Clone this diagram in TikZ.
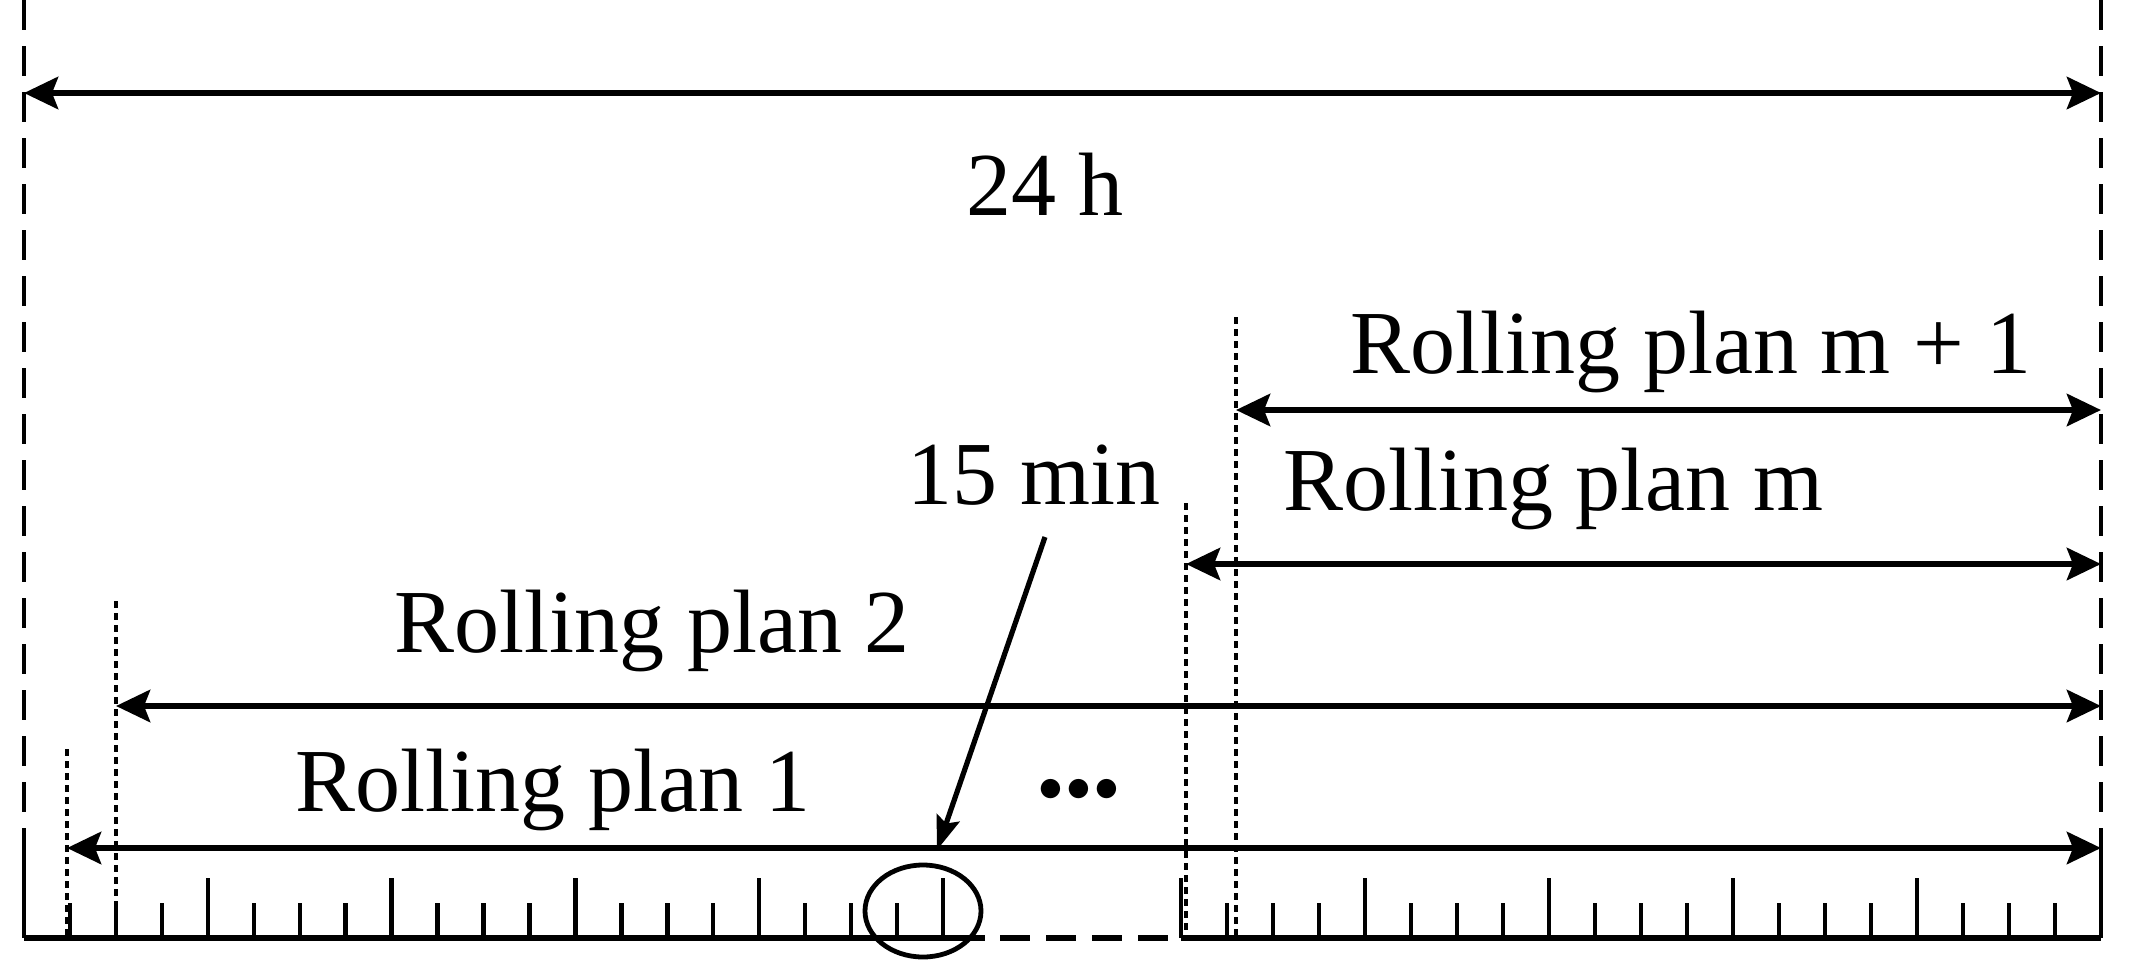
\documentclass[tikz,border=0pt]{standalone}
\usepackage{fontspec}
\setmainfont{Liberation Serif}
\usetikzlibrary{arrows.meta,shapes.geometric}
\begin{document}
\begin{tikzpicture}[x=0.5pt,y=-0.5pt,
  lbl/.style={font=\fontsize{45}{54}\selectfont,inner sep=0pt},
  dim/.style={line width=3.2pt,{Stealth[length=17pt,width=16pt,inset=3pt]}-{Stealth[length=17pt,width=16pt,inset=3pt]}},
  border/.style={line width=2.2pt,dash pattern=on 15pt off 8pt},
  dots/.style={line width=1.9pt,dash pattern=on 3.5pt off 2.5pt},
  tick/.style={line width=2.2pt}]
\useasboundingbox (0,0) rectangle (2131,964);
% borders
\draw[border] (24,0) -- (24,830);
\draw[border] (2101,0) -- (2101,830);
\draw[tick] (24,830) -- (24,938);
\draw[tick] (2101,830) -- (2101,938);
% baseline
\draw[line width=3.2pt] (24,938) -- (985,938);
\draw[line width=3.2pt,dash pattern=on 15pt off 8pt] (1000,938) -- (1170,938);
\draw[line width=3.2pt] (1181,938) -- (2101,938);
% ticks
\foreach \k in {1,...,20}{
  \pgfmathsetmacro{\xx}{24+45.95*\k}
  \pgfmathtruncatemacro{\m}{mod(\k,4)}
  \ifnum\m=0 \draw[tick] (\xx,878) -- (\xx,938); \else \draw[tick] (\xx,903) -- (\xx,938); \fi
}
\foreach \k in {0,...,19}{
  \pgfmathsetmacro{\xx}{1181+46*\k}
  \pgfmathtruncatemacro{\m}{mod(\k,4)}
  \ifnum\m=0 \draw[tick] (\xx,878) -- (\xx,938); \else \draw[tick] (\xx,903) -- (\xx,938); \fi
}
% dotted verticals
\draw[dots] (67,749) -- (67,938);
\draw[dots] (116,601) -- (116,938);
\draw[dots] (1186,503) -- (1186,938);
\draw[dots] (1236,317) -- (1236,938);
% coordinates
\coordinate (a24l) at (24,93); \coordinate (a24r) at (2101,93);
\coordinate (m1l) at (1236,410); \coordinate (m1r) at (2101,410);
\coordinate (ml) at (1186,564); \coordinate (mr) at (2101,564);
\coordinate (p2l) at (116,706); \coordinate (p2r) at (2101,706);
\coordinate (p1l) at (67,848); \coordinate (p1r) at (2101,848);
\draw[dim] (a24l) -- (a24r);
\draw[dim] (m1l) -- (m1r);
\draw[dim] (ml) -- (mr);
\draw[dim] (p2l) -- (p2r);
\draw[dim] (p1l) -- (p1r);
% labels
\node[lbl] (t24) at (1045,184) {24 h};
\node[lbl] (tm1) at (1691,352) {Rolling plan m + 1};
\node[lbl] (tm) at (1553,489) {Rolling plan m};
\node[lbl] (t2) at (652,631) {Rolling plan 2};
\node[lbl] (t1) at (553,790) {Rolling plan 1};
\node[lbl] (t15) at (1034,475) {15 min};
\node[lbl] (dd) at (1079,790) {$\bullet\!\bullet\!\bullet$};
% ellipse and pointer
\node[draw,ellipse,line width=2.4pt,minimum width=58pt,minimum height=46pt,inner sep=0pt] (el) at (923,911) {};
\coordinate (tail) at (1045,537);
\coordinate (tip) at (937,850);
\draw[line width=2.6pt,-{Stealth[length=17pt,width=12pt,inset=3pt]}] (tail) -- (tip);
\end{tikzpicture}
\end{document}
